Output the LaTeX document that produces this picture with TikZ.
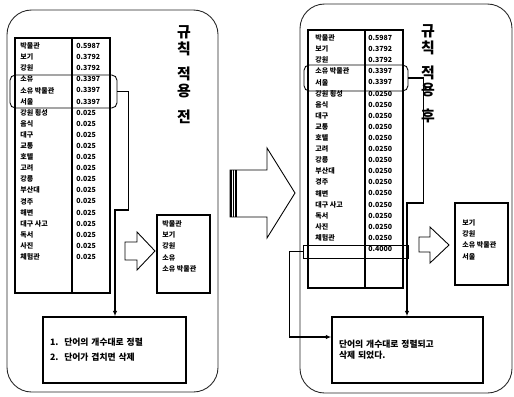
\documentclass[tikz,border=0pt]{standalone}
\usepackage{fontspec}
\setmainfont{Noto Sans CJK KR}
\usetikzlibrary{arrows.meta}

\begin{document}
\begin{tikzpicture}[x=0.02cm, y=-0.02cm,
    frame/.style={draw=black!85, line width=0.5pt, rounded corners=14pt},
    cell/.style={font=\fontsize{4}{4}\selectfont\bfseries, inner sep=0pt, anchor=west},
    pick/.style={draw, line width=0.5pt, rounded corners=3pt, inner sep=0pt},
    link/.style={line width=0.9pt, -{Latex[length=3pt,width=2.5pt]}},
    note/.style={draw, line width=0.9pt, inner xsep=0.14cm, align=left},
    resbox/.style={draw, line width=0.9pt, inner sep=0pt},
    hollow/.style={draw, line width=0.5pt, fill=white},
    title/.style={font=\fontsize{8.5}{9.6}\selectfont\bfseries, align=center, inner sep=0pt, anchor=north}]
  \useasboundingbox (0,0) rectangle (514,396);

  % before the rule
  \draw[frame] (7,10) rectangle (218,392);
  \node[title] (ltitle) at (184,25) {규\\칙\\[5pt]적\\용\\[5pt]전};
  \draw[line width=1pt] (15,38) rectangle (110,293) (72,38) -- (72,293);
  \foreach \w/\v [count=\i] in {박물관/0.5987, 보기/0.3792, 강원/0.3792, 소유/0.3397, 소유 박물관/0.3397, 서울/0.3397,
      강원 횡성/0.025, 음식/0.025, 대구/0.025, 교통/0.025, 호텔/0.025, 고려/0.025, 강릉/0.025, 부산대/0.025,
      경주/0.025, 해변/0.025, 대구 사고/0.025, 독서/0.025, 사진/0.025, 체험관/0.025}
    {\node[cell] (lw\i) at (20,{46+11.1*(\i-1)}) {\w};
     \node[cell] (lv\i) at (76,{46+11.1*(\i-1)}) {\v};}
  \node[pick, minimum width=2.14cm, minimum height=0.66cm] (lsel) at (63.5,91.5) {};
  \node[resbox, minimum width=1.06cm, minimum height=1.56cm] (lres) at (183.5,254) {};
  \node[cell, anchor=north west, align=left, font=\fontsize{4}{6.4}\selectfont\bfseries] (lreslist) at (162,220) {박물관\\보기\\강원\\소유\\소유 박물관};
  \draw[hollow] (125,242) -- (137,242) -- (137,232) -- (155,251) -- (137,270) -- (137,260) -- (125,260) -- cycle;
  \node[note, text width=2.58cm, minimum height=1.32cm, font=\fontsize{5}{8.5}\selectfont\bfseries] (lnote) at (114.5,350)
    {1.\ \ 단어의 개수대로 정렬\\2.\ \ 단어가 겹치면 삭제};
  \coordinate (lbend) at (115,210);
  \draw[link] (lsel.east) -- ++(11,0) |- (lbend) -- (lbend |- lnote.north);

  % big arrow
  \draw[hollow] (230,170) -- (267,170) -- (267,148) -- (295,193) -- (267,238) -- (267,217) -- (230,217) -- cycle;
  \foreach \s in {231,233.5,236} \draw[line width=0.9pt] (\s,170) -- (\s,217);

  % after the rule
  \draw[frame] (300,4) rectangle (512,393);
  \node[title] (rtitle) at (428,24) {규\\칙\\[5pt]적\\용\\[5pt]후};
  \draw[line width=1pt] (308,30) rectangle (403,288) (365,30) -- (365,288);
  \foreach \w/\v [count=\i] in {박물관/0.5987, 보기/0.3792, 강원/0.3792, 소유 박물관/0.3397, 서울/0.3397,
      강원 횡성/0.0250, 음식/0.0250, 대구/0.0250, 교통/0.0250, 호텔/0.0250, 고려/0.0250, 강릉/0.0250, 부산대/0.0250,
      경주/0.0250, 해변/0.0250, 대구 사고/0.0250, 독서/0.0250, 사진/0.0250, 체험관/0.0250}
    {\node[cell] (rw\i) at (315,{38+11.1*(\i-1)}) {\w};
     \node[cell] (rv\i) at (368,{38+11.1*(\i-1)}) {\v};}
  \node[cell] (rv20) at (368,249) {0.4000};
  \node[pick, minimum width=2.08cm, minimum height=0.52cm] (rsel) at (356,78) {};
  \node[pick, rounded corners=0pt, minimum width=2.1cm, minimum height=0.26cm] (rlast) at (355.5,251.5) {};
  \node[resbox, minimum width=1.06cm, minimum height=1.64cm] (rres) at (481.5,244) {};
  \node[cell, anchor=north west, align=left, font=\fontsize{4}{6.4}\selectfont\bfseries] (rreslist) at (462,219) {보기\\강원\\소유 박물관\\서울};
  \draw[hollow] (419,237) -- (430,237) -- (430,227) -- (449,245) -- (430,263) -- (430,252) -- (419,252) -- cycle;
  \node[note, text width=2.74cm, minimum height=1.32cm, font=\fontsize{5}{6.4}\selectfont\bfseries] (rnote) at (407.5,350)
    {단어의 개수대로 정렬되고\\삭제 되었다.};
  \coordinate (rbend) at (407,203);
  \draw[link] (rsel.east) -- ++(15,0) |- (rbend) -- (rbend |- rnote.north);
  \draw[link] (rlast.west) -- ++(-13,0) |- ([yshift=0.26cm]rnote.west);
\end{tikzpicture}
\end{document}
